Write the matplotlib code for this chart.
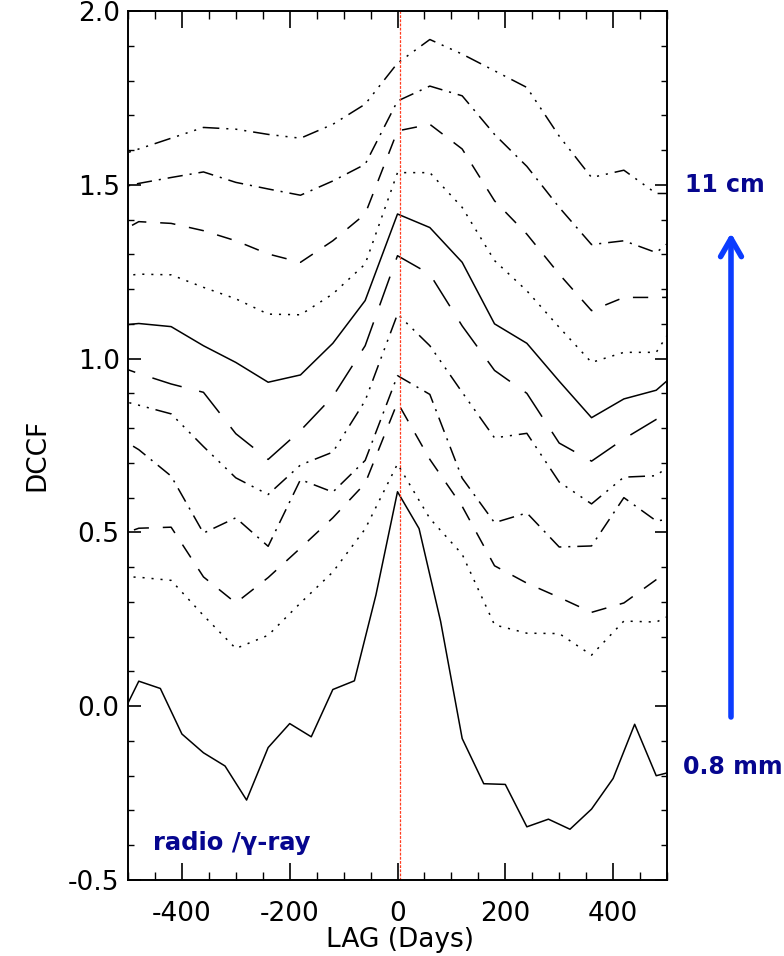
import numpy as np
import matplotlib
matplotlib.use("Agg")
import matplotlib.pyplot as plt

plt.rcParams['font.family'] = ['DejaVu Sans']
plt.rcParams['lines.scale_dashes'] = False

# ---------------- data ----------------
lag_fine = [-520, -480, -440, -400, -360, -320, -280, -240, -200, -160, -120, -80, -40,
            0, 40, 80, 120, 160, 200, 240, 280, 320, 360, 400, 440, 480, 520]
dccf_08mm = [-0.054, 0.072, 0.051, -0.080, -0.134, -0.172, -0.270, -0.119, -0.050, -0.088,
             0.048, 0.073, 0.320, 0.617, 0.511, 0.244, -0.093, -0.223, -0.225, -0.347,
             -0.325, -0.354, -0.296, -0.208, -0.052, -0.200, -0.184]

lag = [-540, -480, -420, -360, -300, -240, -180, -120, -60, 0,
       60, 120, 180, 240, 300, 360, 420, 480, 540]
dccf_c2 = [0.374, 0.371, 0.362, 0.261, 0.166, 0.204, 0.297, 0.386, 0.510, 0.697,
           0.540, 0.437, 0.234, 0.210, 0.209, 0.147, 0.245, 0.242, 0.287]
dccf_c3 = [0.479, 0.512, 0.515, 0.372, 0.297, 0.370, 0.455, 0.542, 0.641, 0.874,
           0.710, 0.575, 0.404, 0.354, 0.313, 0.270, 0.297, 0.364, 0.400]
dccf_c4 = [0.795, 0.738, 0.662, 0.498, 0.542, 0.460, 0.652, 0.616, 0.707, 0.951,
           0.897, 0.656, 0.528, 0.556, 0.458, 0.461, 0.600, 0.533, 0.545]
dccf_c5 = [0.890, 0.866, 0.841, 0.747, 0.657, 0.609, 0.694, 0.731, 0.879, 1.128,
           1.037, 0.903, 0.772, 0.785, 0.645, 0.582, 0.659, 0.663, 0.736]
dccf_c6 = [0.990, 0.957, 0.927, 0.903, 0.784, 0.710, 0.793, 0.891, 1.037, 1.296,
           1.243, 1.094, 0.966, 0.900, 0.757, 0.705, 0.769, 0.825, 0.860]
dccf_c7 = [1.092, 1.101, 1.092, 1.037, 0.989, 0.932, 0.953, 1.044, 1.167, 1.416,
           1.377, 1.277, 1.100, 1.044, 0.935, 0.830, 0.884, 0.909, 0.990]
dccf_c8 = [1.231, 1.243, 1.241, 1.205, 1.172, 1.128, 1.126, 1.186, 1.272, 1.535,
           1.535, 1.435, 1.282, 1.195, 1.090, 0.989, 1.018, 1.018, 1.162]
dccf_c9 = [1.343, 1.394, 1.389, 1.368, 1.339, 1.301, 1.277, 1.339, 1.416, 1.655,
           1.674, 1.603, 1.454, 1.358, 1.243, 1.138, 1.176, 1.176, 1.176]
dccf_c10 = [1.483, 1.504, 1.521, 1.537, 1.507, 1.488, 1.470, 1.511, 1.559, 1.741,
            1.784, 1.756, 1.645, 1.553, 1.435, 1.328, 1.339, 1.305, 1.380]
dccf_c11 = [1.573, 1.603, 1.634, 1.665, 1.660, 1.645, 1.634, 1.674, 1.732, 1.850,
            1.918, 1.876, 1.828, 1.780, 1.640, 1.521, 1.542, 1.475, 1.475]

zero_lag_marker = 5
x_ticks = [-400, -200, 0, 200, 400]
y_ticks = [-0.5, 0.0, 0.5, 1.0, 1.5, 2.0]
label_bottom = "0.8 mm"
label_top = "11 cm"
panel_label = "radio /\u03b3-ray"

# ---------------- styles ----------------
ls_dot = (0, (1.5, 5))
ls_dash = (0, (11, 10))
ls_dashdot = (0, (11, 5, 1.5, 5))
ls_dash3dot = (0, (12, 5, 1.5, 5, 1.5, 5, 1.5, 5))
ls_long = (0, (22, 13))

W, H = 784, 956
fig = plt.figure(figsize=(W / 100, H / 100), dpi=100)
ax = fig.add_axes([128 / W, 1 - 880 / H, (667 - 128) / W, (880 - 11) / H])

lw = 1.1
ax.plot(lag_fine, dccf_08mm, color='black', lw=lw, ls='-')
series = [dccf_c2, dccf_c3, dccf_c4, dccf_c5, dccf_c6, dccf_c7, dccf_c8, dccf_c9, dccf_c10, dccf_c11]
styles = [ls_dot, ls_dash, ls_dashdot, ls_dash3dot, ls_long, '-', ls_dot, ls_dash, ls_dashdot, ls_dash3dot]
for s, st in zip(series, styles):
    ax.plot(lag, s, color='black', lw=lw, ls=st)

ax.axvline(zero_lag_marker, color='#ff3b1f', lw=0.9, ls=(0, (2, 1)))

ax.set_xlim(-500, 500)
ax.set_ylim(-0.5, 2.0)
ax.set_xticks(x_ticks)
ax.set_xticks(np.arange(-500, 501, 50), minor=True)
ax.set_yticks(y_ticks)
ax.set_yticks(np.arange(-0.5, 2.001, 0.1), minor=True)
ax.set_xticklabels([str(v) for v in x_ticks])
ax.set_yticklabels(['%.1f' % v for v in y_ticks])

ax.tick_params(axis='x', which='major', direction='in', length=12, width=1.2,
               top=True, bottom=True, labelsize=19, pad=15)
ax.tick_params(axis='x', which='minor', direction='in', length=6, width=1.0,
               top=True, bottom=True)
ax.tick_params(axis='y', which='major', direction='in', length=9, width=1.2,
               left=True, right=True, labelsize=19, pad=6)
ax.tick_params(axis='y', which='minor', direction='in', length=4.5, width=1.0,
               left=True, right=True)
for sp in ax.spines.values():
    sp.set_linewidth(1.4)

ax.set_xlabel("LAG (Days)", fontsize=19, va='center', ha='center')
ax.xaxis.set_label_coords((400 - 128) / 539, (880 - 940) / 869)
ax.set_ylabel("DCCF", fontsize=19, va='center', ha='center')
ax.yaxis.set_label_coords((37 - 128) / 539, (880 - 455) / 869)

navy = '#06068f'
fig.text(153 / W, 1 - 850 / H, panel_label, color=navy, fontsize=17.5,
         fontweight='bold', va='baseline', ha='left')
fig.text(685 / W, 1 - 192 / H, label_top, color=navy, fontsize=17,
         fontweight='bold', va='baseline', ha='left')
fig.text(683 / W, 1 - 774 / H, label_bottom, color=navy, fontsize=17,
         fontweight='bold', va='baseline', ha='left')

ax.annotate('', xy=(731, H - 233), xytext=(731, H - 717),
            xycoords='figure pixels', textcoords='figure pixels',
            annotation_clip=False,
            arrowprops=dict(arrowstyle='->,head_length=1.3,head_width=0.75',
                            lw=4, color='#0b3cff', shrinkA=0, shrinkB=0))

fig.savefig('out.png', dpi=100)
